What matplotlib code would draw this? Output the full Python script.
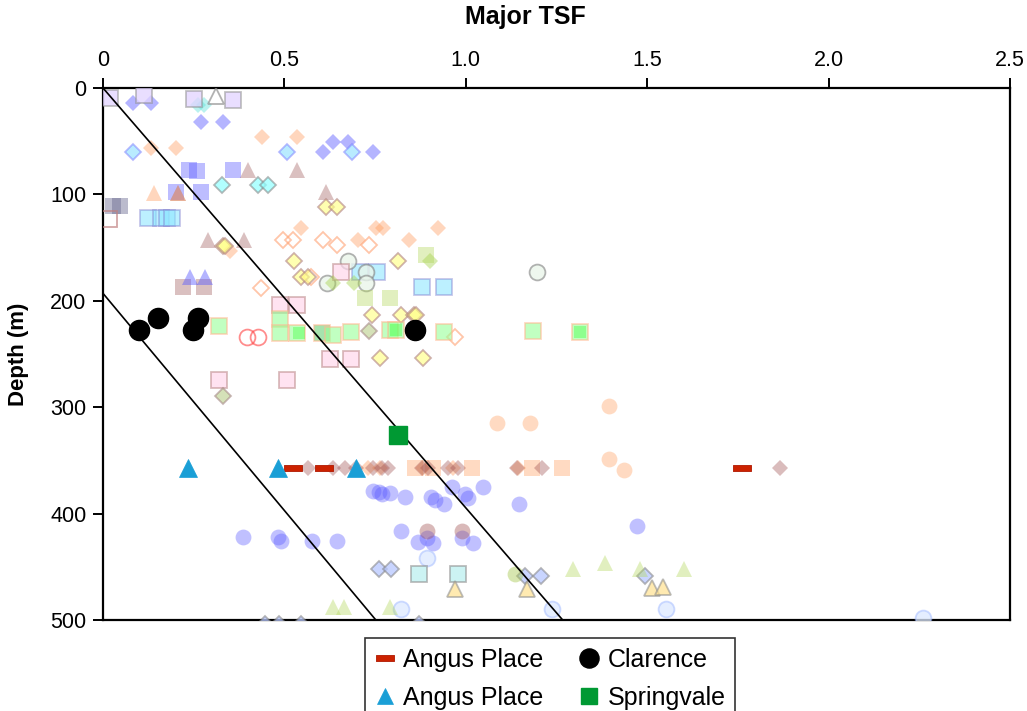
import matplotlib
matplotlib.use("Agg")
import matplotlib.pyplot as plt
from matplotlib.colors import to_rgba

plt.rcParams['font.family'] = ['Liberation Sans', 'DejaVu Sans']

# ---------------- data (Major TSF, depth in m) ----------------
x_ticks = [0, 0.5, 1.0, 1.5, 2.0, 2.5]
x_tick_labels = ["0", "0.5", "1.0", "1.5", "2.0", "2.5"]
y_ticks = [0, 100, 200, 300, 400, 500]
y_tick_labels = ["0", "100", "200", "300", "400", "500"]

line1_tsf = [0.0, 1.267]
line1_depth = [0, 500]
line2_tsf = [0.0, 0.752]
line2_depth = [193, 500]

blue_dia_x = [0.084, 0.132, 0.270, 0.330, 0.606, 0.634, 0.674, 0.745]
blue_dia_d = [13.9, 13.9, 32.1, 32.1, 60.3, 50.9, 50.9, 60.3]

ltblue_dia_x = [0.084, 0.506, 0.685]
ltblue_dia_d = [60.3, 60.3, 60.3]

turq_dia_x = [0.261, 0.278]
turq_dia_d = [15.5, 15.5]

lav_sq_x = [0.019, 0.113, 0.251, 0.359]
lav_sq_d = [9.2, 7.0, 10.2, 10.8]

open_tri_x = [0.311]
open_tri_d = [7.7]

peach_dia_x = [0.132, 0.201, 0.437, 0.536, 0.547, 0.752, 0.772, 0.923, 0.704, 0.842, 0.350,
               0.731, 0.764, 0.883, 0.966, 1.145]
peach_dia_d = [56.2, 56.2, 45.9, 45.9, 131.4, 132.0, 132.0, 132.0, 142.4, 142.4, 153.4,
               357, 357, 357, 357, 357]

open_peach_dia_x = [0.497, 0.525, 0.606, 0.646, 0.734, 0.436, 0.971, 0.573]
open_peach_dia_d = [142.4, 142.4, 142.4, 147.1, 147.1, 187.8, 233.8, 177.2]

blue_sq_x = [0.238, 0.258, 0.359, 0.201, 0.270]
blue_sq_d = [76.6, 78.2, 76.6, 97.6, 97.6]

rosy_tri_x = [0.400, 0.536, 0.208, 0.615, 0.289, 0.389]
rosy_tri_d = [76.6, 76.6, 98.5, 97.3, 143.3, 143.3]

peach_tri_x = [0.141, 0.208]
peach_tri_d = [98.5, 98.5]

slate_sq_x = [0.028, 0.047, 0.604]
slate_sq_d = [111.1, 111.1, 230.1]

open_rosy_sq_x = [0.017]
open_rosy_sq_d = [123.0]

cyan_sq_x = [0.125, 0.160, 0.175, 0.191, 0.708, 0.754, 0.880, 0.940]
cyan_sq_d = [122.0, 122.0, 122.0, 122.0, 173.1, 173.1, 186.6, 186.6]

cyan_dia_x = [0.327, 0.428, 0.456]
cyan_dia_d = [90.7, 90.7, 90.7]

yel_dia_x = [0.331, 0.337, 0.615, 0.646, 0.526, 0.545, 0.566, 0.812, 0.742, 0.822, 0.857, 0.862,
             0.764, 0.881]
yel_dia_d = [148.7, 148.7, 111.7, 111.7, 162.4, 177.4, 177.4, 162.4, 212.9, 212.9, 212.9, 212.9,
             253.6, 253.6]

gcirc_x = [0.676, 0.725, 0.616, 0.725, 1.197]
gcirc_d = [162.4, 173.1, 182.8, 182.8, 173.1]

pink_sq_x = [0.656, 0.487, 0.534, 0.626, 0.684, 0.321, 0.508]
pink_sq_d = [173.1, 203.5, 203.5, 254.5, 254.5, 274.6, 274.6]

ygreen_sq_x = [0.890, 0.722, 0.792]
ygreen_sq_d = [157.4, 197.0, 197.0]

ygreen_dia_x = [0.901, 0.634, 0.693]
ygreen_dia_d = [162.6, 183.1, 183.1]

lgreen_sq_x = [0.319, 0.487, 0.487, 0.536, 0.604, 0.635, 0.684, 0.791, 0.807, 0.940, 1.186, 1.315]
lgreen_sq_d = [223.9, 216.9, 230.1, 230.1, 230.1, 231.7, 229.5, 227.6, 227.6, 229.5, 228.6, 229.5]

green_sq_x = [0.540, 0.807, 1.315]
green_sq_d = [230.1, 227.6, 229.5]

red_circ_x = [0.397, 0.426]
red_circ_d = [233.8, 233.8]

gg_dia_x = [0.733, 0.330]
gg_dia_d = [228.6, 289.7]

rosy_sq_x = [0.221, 0.279]
rosy_sq_d = [186.6, 186.6]

blue_tri_x = [0.240, 0.281]
blue_tri_d = [177.2, 177.2]

peach_circ_x = [1.087, 1.176, 1.395, 1.395, 1.435]
peach_circ_d = [315.0, 315.0, 299.0, 349.0, 359.0]

rosy_dia_x = [0.566, 0.634, 0.667, 0.696, 0.743, 0.768, 0.786, 0.878, 0.897, 0.952, 0.979,
              1.140, 1.209, 1.865]
rosy_dia_d = [357] * 14

peach_sq_x = [0.860, 0.910, 1.016, 1.182, 1.264]
peach_sq_d = [357] * 5

blue_circ_x = [0.743, 0.760, 0.768, 0.791, 0.832, 0.905, 0.915, 0.941, 0.961, 0.998, 1.006, 1.048,
               1.147, 1.473, 0.387, 0.483, 0.490, 0.575, 0.644, 0.821, 0.869, 0.892, 0.910,
               0.989, 1.019]
blue_circ_d = [378.9, 380.0, 381.5, 381.1, 384.2, 384.5, 387.0, 391.4, 374.8, 382.0, 385.0, 374.8,
               391.4, 411.8, 421.8, 422.0, 426.0, 425.9, 425.9, 416.5, 426.5, 422.5, 427.4,
               422.7, 427.4]

rosy_circ_x = [0.892, 0.989]
rosy_circ_d = [416.5, 416.5]

pale_circ_x = [0.892, 0.821, 1.237, 1.552, 2.260]
pale_circ_d = [442.2, 490.1, 490.1, 490.1, 497.7]

gb_dia_x = [0.762, 0.793, 1.163, 1.206, 1.494, 0.447, 0.486, 0.546, 0.872]
gb_dia_d = [452.5, 452.5, 458.8, 458.8, 458.8, 504, 504, 504, 504]

cyan_gray_sq_x = [0.871, 0.979]
cyan_gray_sq_d = [457.2, 457.2]

yel_tri_x = [0.970, 1.168, 1.512, 1.543]
yel_tri_d = [471.3, 471.3, 469.7, 468.8]

yg_tri_x = [0.635, 0.664, 0.791, 1.295, 1.384, 1.480, 1.601]
yg_tri_d = [487.6, 487.6, 487.6, 451.9, 446.9, 451.9, 451.9]

yg_circ_x = [1.136]
yg_circ_d = [457.0]

# highlighted series (legend)
angus_dash_x = [0.525, 0.609, 1.760]
angus_dash_d = [357, 357, 357]
angus_tri_x = [0.233, 0.481, 0.696]
angus_tri_d = [357, 357, 357]
clarence_x = [0.100, 0.152, 0.247, 0.263, 0.860]
clarence_d = [227.0, 216.6, 227.0, 216.6, 227.0]
springvale_x = [0.814]
springvale_d = [325.7]

legend_labels = ["Angus Place", "Angus Place", "Clarence", "Springvale"]

# ---------------- figure ----------------
fig = plt.figure(figsize=(10.27, 7.11), dpi=100)
ax = fig.add_axes([0.1003, 0.128, 0.8832, 0.7482])


def rgba(c, a):
    if c is None or c == 'none':
        return (0, 0, 0, 0)
    return to_rgba(c, a)


def pts(x, d, marker, ms, face, fa, edge=None, ea=0.0, ew=1.3, z=3):
    ax.plot(x, d, linestyle='none', marker=marker, markersize=ms,
            markerfacecolor=rgba(face, fa), markeredgecolor=rgba(edge, ea),
            markeredgewidth=ew, zorder=z)


MD, MS, MO, MT = 8.1, 11.0, 11.4, 12.0

pts(blue_dia_x, blue_dia_d, 'D', MD, '#5a5aff', 0.45)
pts(ltblue_dia_x, ltblue_dia_d, 'D', MD, '#a8e6ff', 0.8, '#7a7aff', 0.5)
pts(turq_dia_x, turq_dia_d, 'D', MD, '#50e0d8', 0.4)
pts(lav_sq_x, lav_sq_d, 's', MS, '#e2d4ff', 0.75, '#909090', 0.55)
pts(open_tri_x, open_tri_d, '^', MT, 'none', 0, '#909090', 0.7)
pts(peach_dia_x, peach_dia_d, 'D', MD, '#ff9a5a', 0.4)
pts(open_peach_dia_x, open_peach_dia_d, 'D', MD, 'none', 0, '#ffa070', 0.6)
pts(blue_sq_x, blue_sq_d, 's', MS, '#5a5aff', 0.4)
pts(rosy_tri_x, rosy_tri_d, '^', MT, '#a05a5a', 0.38)
pts(peach_tri_x, peach_tri_d, '^', MT, '#ff9a5a', 0.4)
pts(slate_sq_x, slate_sq_d, 's', MS, '#6a6a90', 0.45)
pts(open_rosy_sq_x, open_rosy_sq_d, 's', MS, 'none', 0, '#c08080', 0.7)
pts(cyan_sq_x, cyan_sq_d, 's', MS, '#90e6ff', 0.6, '#8080d0', 0.45)
pts(cyan_dia_x, cyan_dia_d, 'D', MD, '#90ffff', 0.7, '#808080', 0.55)
pts(yel_dia_x, yel_dia_d, 'D', MD, '#ffff88', 0.65, '#b08080', 0.6)
pts(gcirc_x, gcirc_d, 'o', MO, '#eaf6ea', 0.8, '#808080', 0.6)
pts(pink_sq_x, pink_sq_d, 's', MS, '#ffd8ec', 0.7, '#c09090', 0.6)
pts(ygreen_sq_x, ygreen_sq_d, 's', MS, '#b4d860', 0.4)
pts(ygreen_dia_x, ygreen_dia_d, 'D', MD, '#a8d450', 0.45)
pts(lgreen_sq_x, lgreen_sq_d, 's', MS, '#98ff98', 0.6, '#ffb890', 0.55)
pts(green_sq_x, green_sq_d, 's', MS * 0.8, '#30ff30', 0.35)
pts(red_circ_x, red_circ_d, 'o', MO, 'none', 0, '#ff4040', 0.6)
pts(gg_dia_x, gg_dia_d, 'D', MD, '#c8d8a0', 0.75, '#a08080', 0.55)
pts(rosy_sq_x, rosy_sq_d, 's', MS, '#a05a5a', 0.38)
pts(blue_tri_x, blue_tri_d, '^', MT, '#5a5aff', 0.45)
pts(peach_circ_x, peach_circ_d, 'o', MO, '#ffa060', 0.38)
pts(peach_sq_x, peach_sq_d, 's', MS, '#ffa060', 0.38)
pts(rosy_dia_x, rosy_dia_d, 'D', MD, '#a05050', 0.38)
pts(blue_circ_x, blue_circ_d, 'o', MO, '#5a5aff', 0.38)
pts(rosy_circ_x, rosy_circ_d, 'o', MO, '#a05050', 0.4)
pts(pale_circ_x, pale_circ_d, 'o', MO, '#dde9ff', 0.75, '#9fb8ff', 0.5)
pts(gb_dia_x, gb_dia_d, 'D', MD, '#b8c8ff', 0.75, '#808080', 0.55)
pts(cyan_gray_sq_x, cyan_gray_sq_d, 's', MS, '#c0f0f0', 0.8, '#909090', 0.6)
pts(yel_tri_x, yel_tri_d, '^', MT, '#ffe290', 0.7, '#909090', 0.6)
pts(yg_tri_x, yg_tri_d, '^', MT, '#b4d860', 0.4)
pts(yg_circ_x, yg_circ_d, 'o', MO, '#a8c850', 0.45)

# trend lines
ax.plot(line1_tsf, line1_depth, color='black', lw=1.2, zorder=4)
ax.plot(line2_tsf, line2_depth, color='black', lw=1.2, zorder=4)

# highlighted series
dash_marker = [(-1, -0.3), (1, -0.3), (1, 0.3), (-1, 0.3), (-1, -0.3)]
h1, = ax.plot(angus_dash_x, angus_dash_d, linestyle='none', marker=dash_marker, markersize=13,
              markerfacecolor='#cc2200', markeredgecolor='#b01800', markeredgewidth=0.6, zorder=6)
h2, = ax.plot(angus_tri_x, angus_tri_d, linestyle='none', marker='^', markersize=12.5,
              markerfacecolor='#1a9fd6', markeredgecolor='#1a9fd6', markeredgewidth=0.5, zorder=6)
h3, = ax.plot(clarence_x, clarence_d, linestyle='none', marker='o', markersize=14.5,
              color='black', zorder=6)
h4, = ax.plot(springvale_x, springvale_d, linestyle='none', marker='s', markersize=12.5,
              color='#009933', zorder=6)

# axes setup
ax.set_xlim(0, 2.5)
ax.set_ylim(500, 0)
ax.xaxis.tick_top()
ax.xaxis.set_label_position('top')
ax.set_xticks(x_ticks)
ax.set_xticklabels(x_tick_labels)
ax.set_yticks(y_ticks)
ax.set_yticklabels(y_tick_labels)
ax.tick_params(axis='both', direction='out', length=7, width=1.4, labelsize=15.5, pad=5)
ax.tick_params(axis='x', top=True, bottom=False)
ax.tick_params(axis='y', left=True, right=False)
for s in ax.spines.values():
    s.set_linewidth(1.6)
ax.set_xlabel("Major TSF", fontsize=18, fontweight='bold')
ax.xaxis.set_label_coords((525 - 103) / 907, 1 + (88 - 17) / 532, transform=ax.transAxes)
ax.xaxis.label.set_verticalalignment('center')
ax.set_ylabel("Depth (m)", fontsize=16, fontweight='bold')
ax.yaxis.set_label_coords(-(103 - 18) / 907, 0.5, transform=ax.transAxes)
ax.yaxis.label.set_verticalalignment('center')

leg = fig.legend([h1, h2, h3, h4], legend_labels, ncol=2, loc='upper center',
                 bbox_to_anchor=(550 / 1027, 1 - 638 / 711), fontsize=18, frameon=True,
                 fancybox=False, edgecolor='black', handlelength=0.8, handletextpad=0.35,
                 columnspacing=1.4, borderpad=0.4, labelspacing=0.55, borderaxespad=0,
                 markerscale=0.95)
leg.get_frame().set_linewidth(1.2)

fig.savefig("out.png", dpi=100)
